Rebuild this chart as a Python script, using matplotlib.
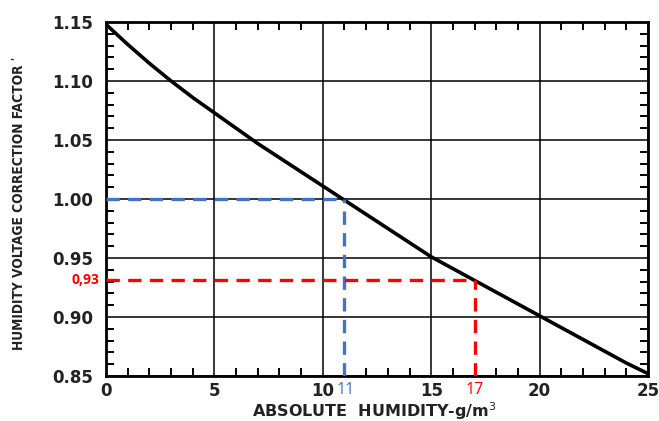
import matplotlib
matplotlib.use("Agg")
import matplotlib.pyplot as plt
import numpy as np

humidity = [0, 1, 2, 3, 4, 5, 6, 7, 8, 9, 10, 11, 12, 13, 14, 15, 16, 17, 18, 19, 20, 21, 22, 23, 24, 25]
factor = [1.148, 1.131, 1.115, 1.100, 1.086, 1.073, 1.060, 1.047, 1.035, 1.023, 1.011, 0.999,
          0.987, 0.975, 0.963, 0.951, 0.941, 0.931, 0.921, 0.911, 0.901, 0.891, 0.881, 0.871, 0.861, 0.852]
x_ticks = [0, 5, 10, 15, 20, 25]
y_ticks = [0.85, 0.90, 0.95, 1.00, 1.05, 1.10, 1.15]
blue_x, blue_y = 11, 1.00
red_x, red_y = 17, 0.931

fig = plt.figure(figsize=(6.59, 4.21), dpi=100)
ax = fig.add_axes([106 / 659, 1 - 376 / 421, (648 - 106) / 659, (376 - 22) / 421])

ax.plot(humidity, factor, color="black", lw=2.6, zorder=3, solid_joinstyle="round")
ax.set_xlim(0, 25)
ax.set_ylim(0.85, 1.15)
ax.set_xticks(x_ticks)
ax.set_yticks(y_ticks)
ax.set_xticklabels([str(v) for v in x_ticks])
ax.set_yticklabels([f"{v:.2f}" for v in y_ticks])
ax.set_xticks(np.arange(0, 25.01, 1), minor=True)
ax.set_yticks(np.arange(0.85, 1.1501, 0.01), minor=True)
ax.grid(True, which="major", color="black", lw=1.1)
ax.tick_params(which="major", direction="in", length=0, labelsize=12)
ax.tick_params(axis="y", which="major", pad=9)
ax.tick_params(axis="x", which="major", pad=4)
ax.tick_params(which="minor", direction="in", length=5.5, width=1.4, color="black",
               bottom=True, left=True, top=True, right=True)
for s in ax.spines.values():
    s.set_linewidth(2.0)
for lab in ax.get_xticklabels() + ax.get_yticklabels():
    lab.set_fontweight("bold")
    lab.set_family("DejaVu Sans")
    lab.set_color("#222222")

# dashed guide lines
dash = (0, (4, 2.5))
ax.plot([0, blue_x], [blue_y, blue_y], color="#4472C4", lw=2.4, ls=dash, zorder=4)
ax.plot([blue_x, blue_x], [0.85, blue_y], color="#4472C4", lw=2.4, ls=dash, zorder=4)
ax.plot([0, red_x], [red_y, red_y], color="#FF0000", lw=2.4, ls=dash, zorder=4)
ax.plot([red_x, red_x], [0.85, red_y], color="#FF0000", lw=2.4, ls=dash, zorder=4)

ax.text(blue_x + 0.05, 0.85 - 0.005, "11", color="#4472C4", ha="center", va="top",
        fontsize=11.5, family="Open Sans")
ax.text(red_x, 0.85 - 0.005, "17", color="#FF0000", ha="center", va="top",
        fontsize=11.5, family="Open Sans")
ax.text(-0.3, red_y, "0,93", color="#FF0000", ha="right", va="center",
        fontsize=10, family="Open Sans", fontweight="bold")

fig.text(374 / 659, 1 - 411 / 421, "ABSOLUTE  HUMIDITY-g/m$^3$", ha="center", va="center",
         fontsize=11.5, fontweight="bold", family="DejaVu Sans", color="#222222")
fig.text(19 / 659, 1 - 203 / 421, "HUMIDITY VOLTAGE CORRECTION FACTOR \u02b9", rotation=90,
         ha="center", va="center", fontsize=9.8, family="DejaVu Sans", fontstretch="condensed",
         fontweight="bold", color="#222222")

fig.savefig("out.png", dpi=100)
